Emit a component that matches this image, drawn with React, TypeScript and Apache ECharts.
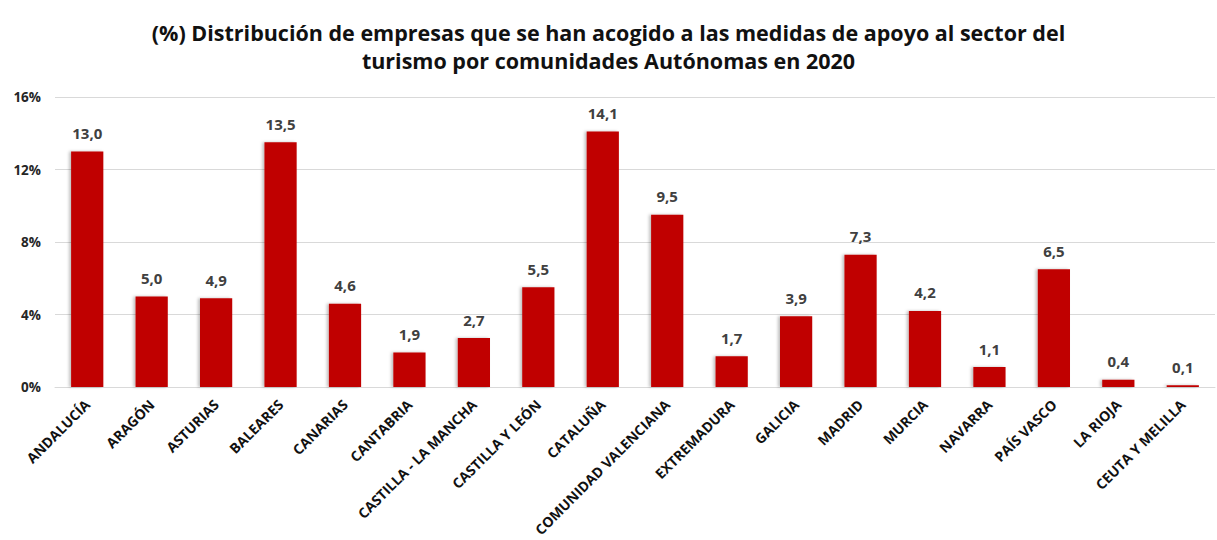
import React, { useEffect, useRef } from "react";
import * as echarts from "echarts";

const titleLine1 =
  "(%) Distribución de empresas que se han acogido a las medidas de apoyo al sector del";
const titleLine2 = "turismo por comunidades Autónomas en 2020";

const categories = [
  "ANDALUCÍA",
  "ARAGÓN",
  "ASTURIAS",
  "BALEARES",
  "CANARIAS",
  "CANTABRIA",
  "CASTILLA - LA MANCHA",
  "CASTILLA Y LEÓN",
  "CATALUÑA",
  "COMUNIDAD VALENCIANA",
  "EXTREMADURA",
  "GALICIA",
  "MADRID",
  "MURCIA",
  "NAVARRA",
  "PAÍS VASCO",
  "LA RIOJA",
  "CEUTA Y MELILLA",
];

const values = [13.0, 5.0, 4.9, 13.5, 4.6, 1.9, 2.7, 5.5, 14.1, 9.5, 1.7, 3.9, 7.3, 4.2, 1.1, 6.5, 0.4, 0.1];

const yMin = 0;
const yMax = 16;
const yInterval = 4;

const FONT = "'Open Sans', 'Noto Sans', sans-serif";

const titleStyle = {
  fontFamily: FONT,
  fontWeight: "bold",
  fontSize: 21.5,
  color: "#111111",
};

export default function App() {
  const ref = useRef<HTMLDivElement>(null);

  useEffect(() => {
    document.body.style.margin = "0";
    if (!ref.current) return;
    const chart = echarts.init(ref.current, undefined, { renderer: "svg" });
    chart.setOption({
      animation: false,
      backgroundColor: "#ffffff",
      title: [
        { text: titleLine1, left: "center", top: 16, textStyle: titleStyle },
        { text: titleLine2, left: "center", top: 44, textStyle: titleStyle },
      ],
      grid: {
        left: 55,
        right: 2,
        top: 97,
        bottom: 153,
        containLabel: false,
      },
      xAxis: {
        type: "category",
        data: categories,
        axisLine: { lineStyle: { color: "#d9d9d9", width: 1 } },
        axisTick: { show: false },
        axisLabel: {
          interval: 0,
          rotate: 45,
          margin: 15,
          fontFamily: FONT,
          fontWeight: "bold",
          fontSize: 14,
          color: "#111111",
        },
      },
      yAxis: {
        type: "value",
        min: yMin,
        max: yMax,
        interval: yInterval,
        axisLine: { show: false },
        axisTick: { show: false },
        splitLine: { lineStyle: { color: "#d9d9d9", width: 1 } },
        axisLabel: {
          formatter: "{value}%",
          margin: 14,
          fontFamily: FONT,
          fontWeight: "bold",
          fontSize: 13.5,
          color: "#262626",
        },
      },
      series: [
        {
          type: "bar",
          data: values,
          barWidth: "50%",
          itemStyle: {
            color: "#c00000",
            shadowColor: "rgba(0,0,0,0.25)",
            shadowBlur: 3,
            shadowOffsetX: -2,
            shadowOffsetY: 0,
          },
          label: {
            show: true,
            position: "top",
            distance: 11,
            fontFamily: FONT,
            fontWeight: "bold",
            fontSize: 15,
            color: "#404040",
            formatter: (p: any) => Number(p.value).toFixed(1).replace(".", ","),
          },
        },
      ],
    });
    return () => chart.dispose();
  }, []);

  return <div ref={ref} style={{ width: 1217, height: 540 }} />;
}
